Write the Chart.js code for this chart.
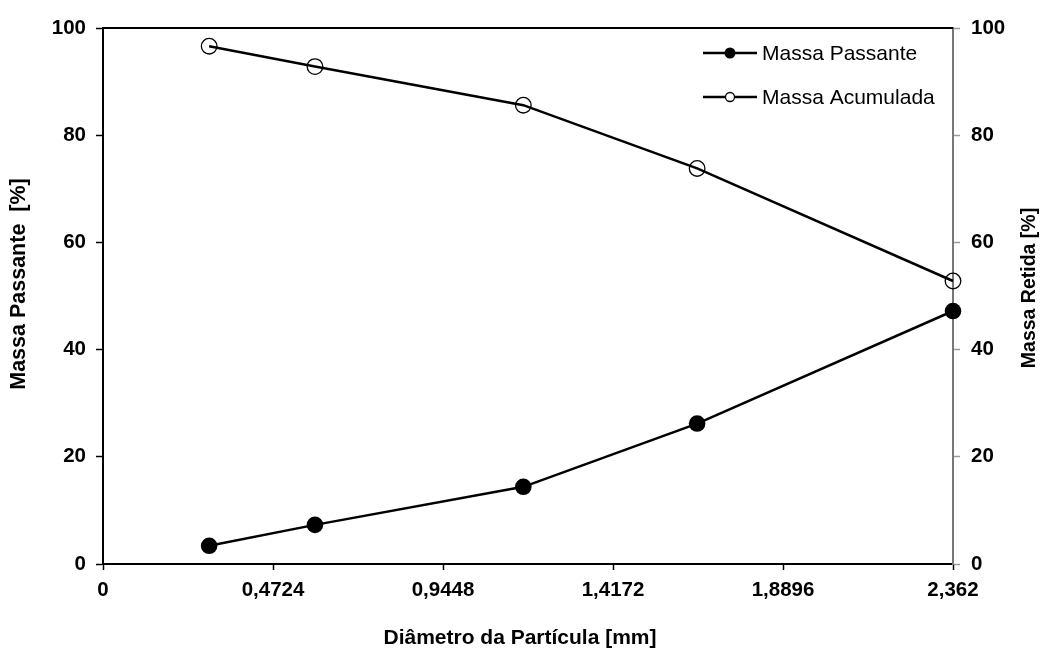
<!DOCTYPE html>
<html>
<head>
<meta charset="utf-8">
<script src="https://cdn.jsdelivr.net/npm/chart.js@4.4.1/dist/chart.umd.min.js"></script>
<style>
  html, body { margin: 0; padding: 0; background: #fff; }
  #wrap { width: 1041px; height: 650px; }
</style>
</head>
<body>
<div id="wrap"><canvas id="chart"></canvas></div>
<script>
// Tyler sieve openings (mm)
const diametros = [0.295, 0.589, 1.168, 1.651, 2.362];
const massaPassante = [3.4, 7.3, 14.4, 26.2, 47.2];
const massaAcumulada = [96.6, 92.8, 85.6, 73.8, 52.8];
const xTicks = [0, 0.4724, 0.9448, 1.4172, 1.8896, 2.362];

const FONT = "'Liberation Sans', Arial, sans-serif";

const toPoints = (xs, ys) => xs.map((x, i) => ({ x: x, y: ys[i] }));
const fmt = v => String(v).replace('.', ',');

// top border, legend and the axis titles placed the way Excel did
const extras = {
  id: 'extras',
  afterDraw(chart) {
    const { ctx, chartArea } = chart;
    ctx.save();
    ctx.strokeStyle = '#000';
    ctx.lineWidth = 2;
    ctx.beginPath();
    ctx.moveTo(chartArea.left, chartArea.top);
    ctx.lineTo(chartArea.right, chartArea.top);
    ctx.stroke();

    // legend
    const items = [
      { label: 'Massa Passante', filled: true, r: 5.5, y: chartArea.top + 25 },
      { label: 'Massa Acumulada', filled: false, r: 4.5, y: chartArea.top + 69 }
    ];
    const lx = chartArea.right - 250;
    items.forEach(it => {
      ctx.strokeStyle = '#000';
      ctx.lineWidth = 2.5;
      ctx.beginPath();
      ctx.moveTo(lx, it.y);
      ctx.lineTo(lx + 54, it.y);
      ctx.stroke();
      ctx.beginPath();
      ctx.arc(lx + 27, it.y, it.r, 0, Math.PI * 2);
      if (it.filled) {
        ctx.fillStyle = '#000';
        ctx.fill();
      } else {
        ctx.fillStyle = '#fff';
        ctx.fill();
        ctx.lineWidth = 1.3;
        ctx.stroke();
      }
      ctx.fillStyle = '#000';
      ctx.font = '21px ' + FONT;
      ctx.textAlign = 'left';
      ctx.textBaseline = 'middle';
      ctx.fillText(it.label, lx + 59, it.y + 1);
    });

    ctx.fillStyle = '#000';
    ctx.textAlign = 'center';
    ctx.textBaseline = 'middle';

    // x title
    ctx.font = 'bold 21px ' + FONT;
    ctx.fillText('Diâmetro da Partícula [mm]', 520, 638);

    // left title
    ctx.save();
    ctx.translate(19, 284);
    ctx.rotate(-Math.PI / 2);
    ctx.font = 'bold 21.5px ' + FONT;
    ctx.fillText('Massa Passante  [%]', 0, 0);
    ctx.restore();

    // right title, also reading upward
    ctx.translate(1030, 288);
    ctx.rotate(-Math.PI / 2);
    ctx.font = 'bold 19.5px ' + FONT;
    ctx.fillText('Massa Retida [%]', 0, 0);
    ctx.restore();
  }
};

new Chart(document.getElementById('chart'), {
  type: 'scatter',
  data: {
    datasets: [
      {
        label: 'Massa Passante',
        data: toPoints(diametros, massaPassante),
        yAxisID: 'y',
        showLine: true,
        borderColor: '#000',
        borderWidth: 2.5,
        pointRadius: 8.3,
        pointBackgroundColor: '#000',
        pointBorderColor: '#000',
        pointBorderWidth: 0,
        clip: false
      },
      {
        label: 'Massa Acumulada',
        data: toPoints(diametros, massaAcumulada),
        yAxisID: 'y2',
        showLine: true,
        borderColor: '#000',
        borderWidth: 2.5,
        pointRadius: 7.8,
        pointBackgroundColor: 'rgba(0,0,0,0)',
        pointBorderColor: '#000',
        pointBorderWidth: 1.3,
        clip: false
      }
    ]
  },
  options: {
    responsive: true,
    maintainAspectRatio: false,
    animation: false,
    layout: { padding: { top: 28, left: 0, right: 0, bottom: 0 } },
    plugins: {
      legend: { display: false },
      tooltip: { enabled: false }
    },
    scales: {
      x: {
        type: 'linear',
        min: 0,
        max: 2.362,
        afterFit: s => { s.height = 86; },
        afterBuildTicks: s => { s.ticks = xTicks.map(v => ({ value: v })); },
        border: { color: '#000', width: 2 },
        grid: { drawOnChartArea: false, drawTicks: true, tickLength: 6, tickColor: '#000', tickWidth: 1.5 },
        ticks: {
          autoSkip: false,
          maxRotation: 0,
          padding: 8,
          color: '#000',
          font: { family: FONT, size: 20.5, weight: 'bold' },
          callback: v => fmt(v)
        }
      },
      y: {
        position: 'left',
        min: 0,
        max: 100,
        afterFit: s => { s.width = 103; },
        border: { color: '#000', width: 2 },
        grid: { drawOnChartArea: false, drawTicks: true, tickLength: 7, tickColor: '#000', tickWidth: 1.5 },
        ticks: {
          stepSize: 20,
          padding: 10,
          color: '#000',
          font: { family: FONT, size: 20.5, weight: 'bold' }
        }
      },
      y2: {
        position: 'right',
        min: 0,
        max: 100,
        afterFit: s => { s.width = 88; },
        border: { color: '#777', width: 2 },
        grid: { drawOnChartArea: false, drawTicks: true, tickLength: 7, tickColor: '#999', tickWidth: 1.5 },
        ticks: {
          stepSize: 20,
          padding: 11,
          color: '#000',
          font: { family: FONT, size: 20.5, weight: 'bold' }
        }
      }
    }
  },
  plugins: [extras]
});
</script>
</body>
</html>
